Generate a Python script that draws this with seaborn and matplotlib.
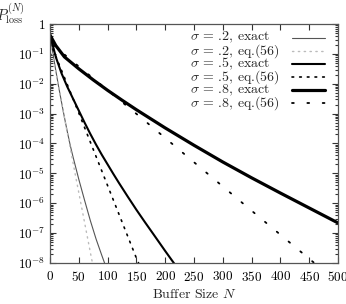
import numpy as np
import pandas as pd
import seaborn as sns
import matplotlib.pyplot as plt
from matplotlib.ticker import FixedLocator, LogLocator, NullFormatter

# valores (log10 de P_loss)
n_02_exact = [0, 5, 10, 15, 20, 25, 30, 35, 40, 50, 60, 70, 80, 90, 96]
p_02_exact = [-0.35, -0.98, -1.55, -2.1, -2.62, -3.12, -3.6, -4.05, -4.45, -5.2, -5.9, -6.58, -7.2, -7.75, -8.07]

n_02_eq = [0, 43, 72, 78]
p_02_eq = [-0.6, -4.95, -7.84, -8.4]

n_05_exact = [0, 10, 20, 30, 40, 50, 60, 70, 80, 90, 100, 110, 120, 135, 150, 165, 180, 200, 216]
p_05_exact = [-0.35, -1.1, -1.65, -2.1, -2.5, -2.9, -3.3, -3.68, -4.04, -4.38, -4.7, -5.02, -5.33,
              -5.78, -6.22, -6.64, -7.05, -7.6, -8.03]

n_05_eq = [0, 49, 64, 150, 156]
p_05_eq = [-0.6, -2.93, -3.66, -7.84, -8.1]

n_08_exact = [0, 10, 25, 50, 75, 100, 125, 150, 200, 250, 300, 350, 400, 450, 500]
p_08_exact = [-0.37, -0.72, -1.1, -1.5, -1.87, -2.22, -2.55, -2.87, -3.48, -4.06, -4.62, -5.15, -5.66,
              -6.16, -6.66]

n_08_eq = [5, 58, 159, 345, 445, 465]
p_08_eq = [-0.7, -1.55, -3.15, -6.17, -7.78, -8.1]

etiquetas = ['$\\sigma$ = .2, exact', '$\\sigma$ = .2, eq.(56)',
             '$\\sigma$ = .5, exact', '$\\sigma$ = .5, eq.(56)',
             '$\\sigma$ = .8, exact', '$\\sigma$ = .8, eq.(56)']

ytick_vals = [1, 1e-1, 1e-2, 1e-3, 1e-4, 1e-5, 1e-6, 1e-7, 1e-8]
ytick_txt = ['$1$'] + ['$10^{-%d}$' % k for k in range(1, 9)]
xtick_vals = list(range(0, 501, 50))

sns.set_style('ticks')
plt.rcParams['font.family'] = ['cmr10', 'DejaVu Serif']
plt.rcParams['mathtext.fontset'] = 'cm'
plt.rcParams['axes.formatter.use_mathtext'] = True
plt.rcParams['font.size'] = 9.5

fig = plt.figure(figsize=(3.46, 3.04), dpi=100)
ax = fig.add_axes([0.1445, 0.135, 0.8325, 0.786])

def df_de(n, p):
    return pd.DataFrame({'N': n, 'P': 10.0 ** np.array(p)})

estilos = [
    dict(color='#555555', lw=0.8, linestyle='-'),
    dict(color='#bbbbbb', lw=1.0, linestyle=(0, (1, 3.2)), dash_capstyle='round'),
    dict(color='black', lw=1.5, linestyle='-'),
    dict(color='black', lw=1.2, linestyle=(0, (1, 3.6)), dash_capstyle='round'),
    dict(color='black', lw=2.3, linestyle='-'),
    dict(color='black', lw=1.3, linestyle=(0, (1, 7.5)), dash_capstyle='round'),
]
series = [(n_02_exact, p_02_exact), (n_02_eq, p_02_eq), (n_05_exact, p_05_exact),
          (n_05_eq, p_05_eq), (n_08_exact, p_08_exact), (n_08_eq, p_08_eq)]

for (n, p), st in zip(series, estilos):
    sns.lineplot(data=df_de(n, p), x='N', y='P', ax=ax, legend=False, **st)

ax.set_yscale('log')
ax.set_xlim(0, 500)
ax.set_ylim(1e-8, 1)
ax.xaxis.set_major_locator(FixedLocator(xtick_vals))
ax.set_xticklabels(['$%d$' % v for v in xtick_vals])
ax.yaxis.set_major_locator(FixedLocator(ytick_vals))
ax.set_yticklabels(ytick_txt)
ax.yaxis.set_minor_locator(LogLocator(base=10, subs=np.arange(2, 10), numticks=20))
ax.yaxis.set_minor_formatter(NullFormatter())
ax.tick_params(which='both', direction='in', top=True, right=True, width=0.8, colors='#333333',
               labelcolor='black', labelsize=9.5)
ax.tick_params(which='major', length=4.5)
ax.tick_params(which='minor', length=2.5)
ax.tick_params(axis='x', pad=5)
for s in ax.spines.values():
    s.set_linewidth(0.9)
    s.set_color('#555555')

ax.set_xlabel('Buffer Size $N$', fontsize=10, labelpad=3)
ax.set_ylabel('')
fig.text(-0.012, 0.955, '$P^{(N)}_{\\mathrm{loss}}$', fontsize=10.5, va='center', ha='left')

# leyenda a mano: texto a la izquierda, muestra de linea a la derecha
filas_y = [0.943, 0.888, 0.833, 0.778, 0.723, 0.668]
for txt, st, yy in zip(etiquetas, estilos, filas_y):
    ax.text(0.486, yy, txt, transform=ax.transAxes, ha='left', va='center', fontsize=10)
    ax.plot([0.839, 0.955], [yy, yy], transform=ax.transAxes, clip_on=False, **st)

fig.savefig('out.png', dpi=100)
